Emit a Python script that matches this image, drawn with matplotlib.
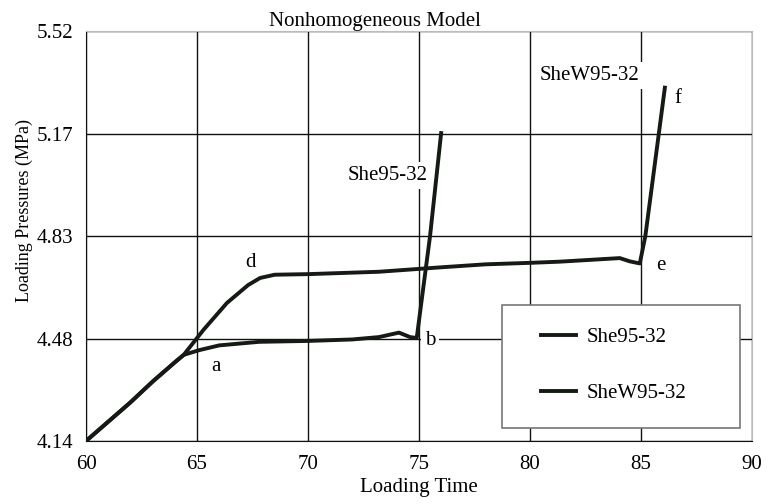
import numpy as np
import matplotlib
matplotlib.use("Agg")
import matplotlib.pyplot as plt
from matplotlib.patches import Rectangle

plt.rcParams["font.family"] = ["Liberation Serif", "DejaVu Serif"]

# She95-32 (loading time, pressure)
she_t = [60.0, 61.0, 62.0, 63.0, 64.0, 64.4, 65.1, 66.0, 67.8, 70.0, 72.0, 73.2, 74.1, 74.6, 74.9, 75.5, 76.0]
she_p = [4.14, 4.205, 4.27, 4.34, 4.405, 4.43, 4.446, 4.462, 4.474, 4.477, 4.482, 4.49, 4.505, 4.49, 4.487, 4.83, 5.177]

# SheW95-32
shew_t = [60.0, 61.0, 62.0, 63.0, 64.0, 64.4, 65.3, 66.35, 67.3, 67.84, 68.5, 70.0, 73.2, 76.0, 78.0, 80.0, 81.35, 84.05, 84.5, 84.95, 85.2, 86.08]
shew_p = [4.14, 4.205, 4.27, 4.34, 4.405, 4.43, 4.515, 4.605, 4.665, 4.689, 4.70, 4.702, 4.71, 4.725, 4.735, 4.74, 4.744, 4.756, 4.745, 4.738, 4.83, 5.33]

y_ticks = [4.14, 4.485, 4.83, 5.175, 5.52]
y_labels = ["4.14", "4.48", "4.83", "5.17", "5.52"]
x_ticks = [60, 65, 70, 75, 80, 85, 90]

fig = plt.figure(figsize=(7.68, 5.04), dpi=100)
ax = fig.add_axes([0.112, 0.125, 0.867, 0.813])

line_col = "#151a15"
ax.plot(she_t, she_p, color=line_col, lw=2.8, label="She95-32", zorder=3)
ax.plot(shew_t, shew_p, color=line_col, lw=2.8, label="SheW95-32", zorder=3)

ax.set_xlim(60, 90)
ax.set_ylim(4.14, 5.52)
ax.set_xticks(x_ticks)
ax.set_yticks(y_ticks)
ax.set_yticklabels(y_labels)
ax.grid(True, color="#111111", lw=1.0)
ax.tick_params(length=0, labelsize=15)
ax.tick_params(axis="x", pad=10)
ax.tick_params(axis="y", pad=9)

for s in ["top", "right"]:
    ax.spines[s].set_color("#bbbbbb")
ax.spines["left"].set_color("#111111")
ax.spines["bottom"].set_color("#111111")

ax.set_title("Nonhomogeneous Model", fontsize=15, x=0.434, pad=4)
ax.set_xlabel("Loading Time", fontsize=15, labelpad=3)
ax.set_ylabel("Loading Pressures (MPa)", fontsize=13)
ax.yaxis.set_label_coords(-0.08, 0.563)

box = dict(facecolor="white", edgecolor="none", pad=3)
ax.text(73.6, 5.035, "She95-32", fontsize=15, ha="center", va="center", bbox=box, zorder=2)
ax.text(82.7, 5.372, "SheW95-32", fontsize=15, ha="center", va="center", bbox=box, zorder=2)
ax.text(65.86, 4.39, "a", fontsize=15, ha="center", va="center")
ax.text(75.5, 4.478, "b", fontsize=15, ha="center", va="center", bbox=box, zorder=2)
ax.text(67.43, 4.74, "d", fontsize=15, ha="center", va="center")
ax.text(85.9, 4.73, "e", fontsize=15, ha="center", va="center")
ax.text(86.67, 5.295, "f", fontsize=15, ha="center", va="center")

# legend box drawn separately so the padding can match
ax.add_patch(Rectangle((0.625, 0.032), 0.357, 0.30, transform=ax.transAxes,
                       facecolor="white", edgecolor="#777777", lw=1.2, zorder=4))
leg = ax.legend(loc="upper left", bbox_to_anchor=(0.683, 0.277),
                prop={"family": ["Liberation Serif"], "size": 15},
                frameon=False, handlelength=1.7, labelspacing=1.75, borderpad=0,
                handletextpad=0.5, borderaxespad=0)
leg.set_zorder(5)

fig.savefig("out.png", dpi=100)
